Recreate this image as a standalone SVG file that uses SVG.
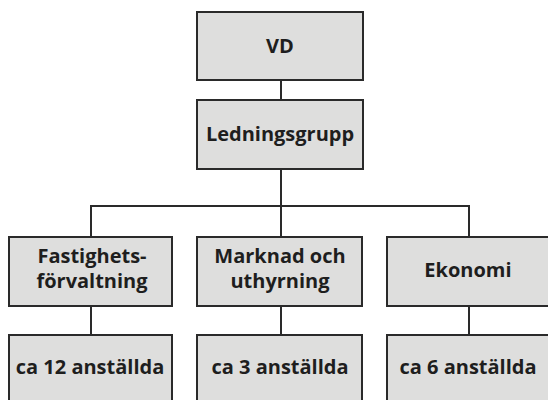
<svg xmlns="http://www.w3.org/2000/svg" width="548" height="400" viewBox="0 0 548 400">
<style>
.box{fill:#dededd;stroke:#2a2a2a;stroke-width:2}
.t{font-family:"Open Sans","Liberation Sans",sans-serif;font-weight:bold;font-size:20px;fill:#1e1e1e;text-anchor:middle}
.c{fill:none;stroke:#2a2a2a;stroke-width:2}
</style>
<rect width="548" height="400" fill="#ffffff"/>
<g id="connectors">
<line class="c" x1="281" y1="80" x2="281" y2="100"/>
<line class="c" x1="281" y1="169" x2="281" y2="206"/>
<polyline class="c" points="91,237 91,206 469,206 469,237"/>
<line class="c" x1="281" y1="206" x2="281" y2="237"/>
<line class="c" x1="91" y1="306" x2="91" y2="335"/>
<line class="c" x1="281" y1="306" x2="281" y2="335"/>
<line class="c" x1="469" y1="306" x2="469" y2="335"/>
</g>
<g id="vd"><rect class="box" x="197" y="12" width="166" height="68"/><text class="t" x="280" y="53">VD</text></g>
<g id="ledningsgrupp"><rect class="box" x="197" y="100" width="166" height="69"/><text class="t" x="280" y="141">Ledningsgrupp</text></g>
<g id="fastighet"><rect class="box" x="9" y="237" width="163" height="69"/><text class="t" x="92" y="263">Fastighets-</text><text class="t" x="92" y="288">förvaltning</text></g>
<g id="marknad"><rect class="box" x="197" y="237" width="165" height="69"/><text class="t" x="280" y="263">Marknad och</text><text class="t" x="280" y="288">uthyrning</text></g>
<g id="ekonomi"><rect class="box" x="387" y="237" width="163" height="69"/><text class="t" x="468" y="277">Ekonomi</text></g>
<g id="anst12"><rect class="box" x="9" y="335" width="163" height="69"/><text class="t" x="90" y="374">ca 12 anställda</text></g>
<g id="anst3"><rect class="box" x="197" y="335" width="165" height="69"/><text class="t" x="280" y="374">ca 3 anställda</text></g>
<g id="anst6"><rect class="box" x="387" y="335" width="163" height="69"/><text class="t" x="468" y="374">ca 6 anställda</text></g>
</svg>
